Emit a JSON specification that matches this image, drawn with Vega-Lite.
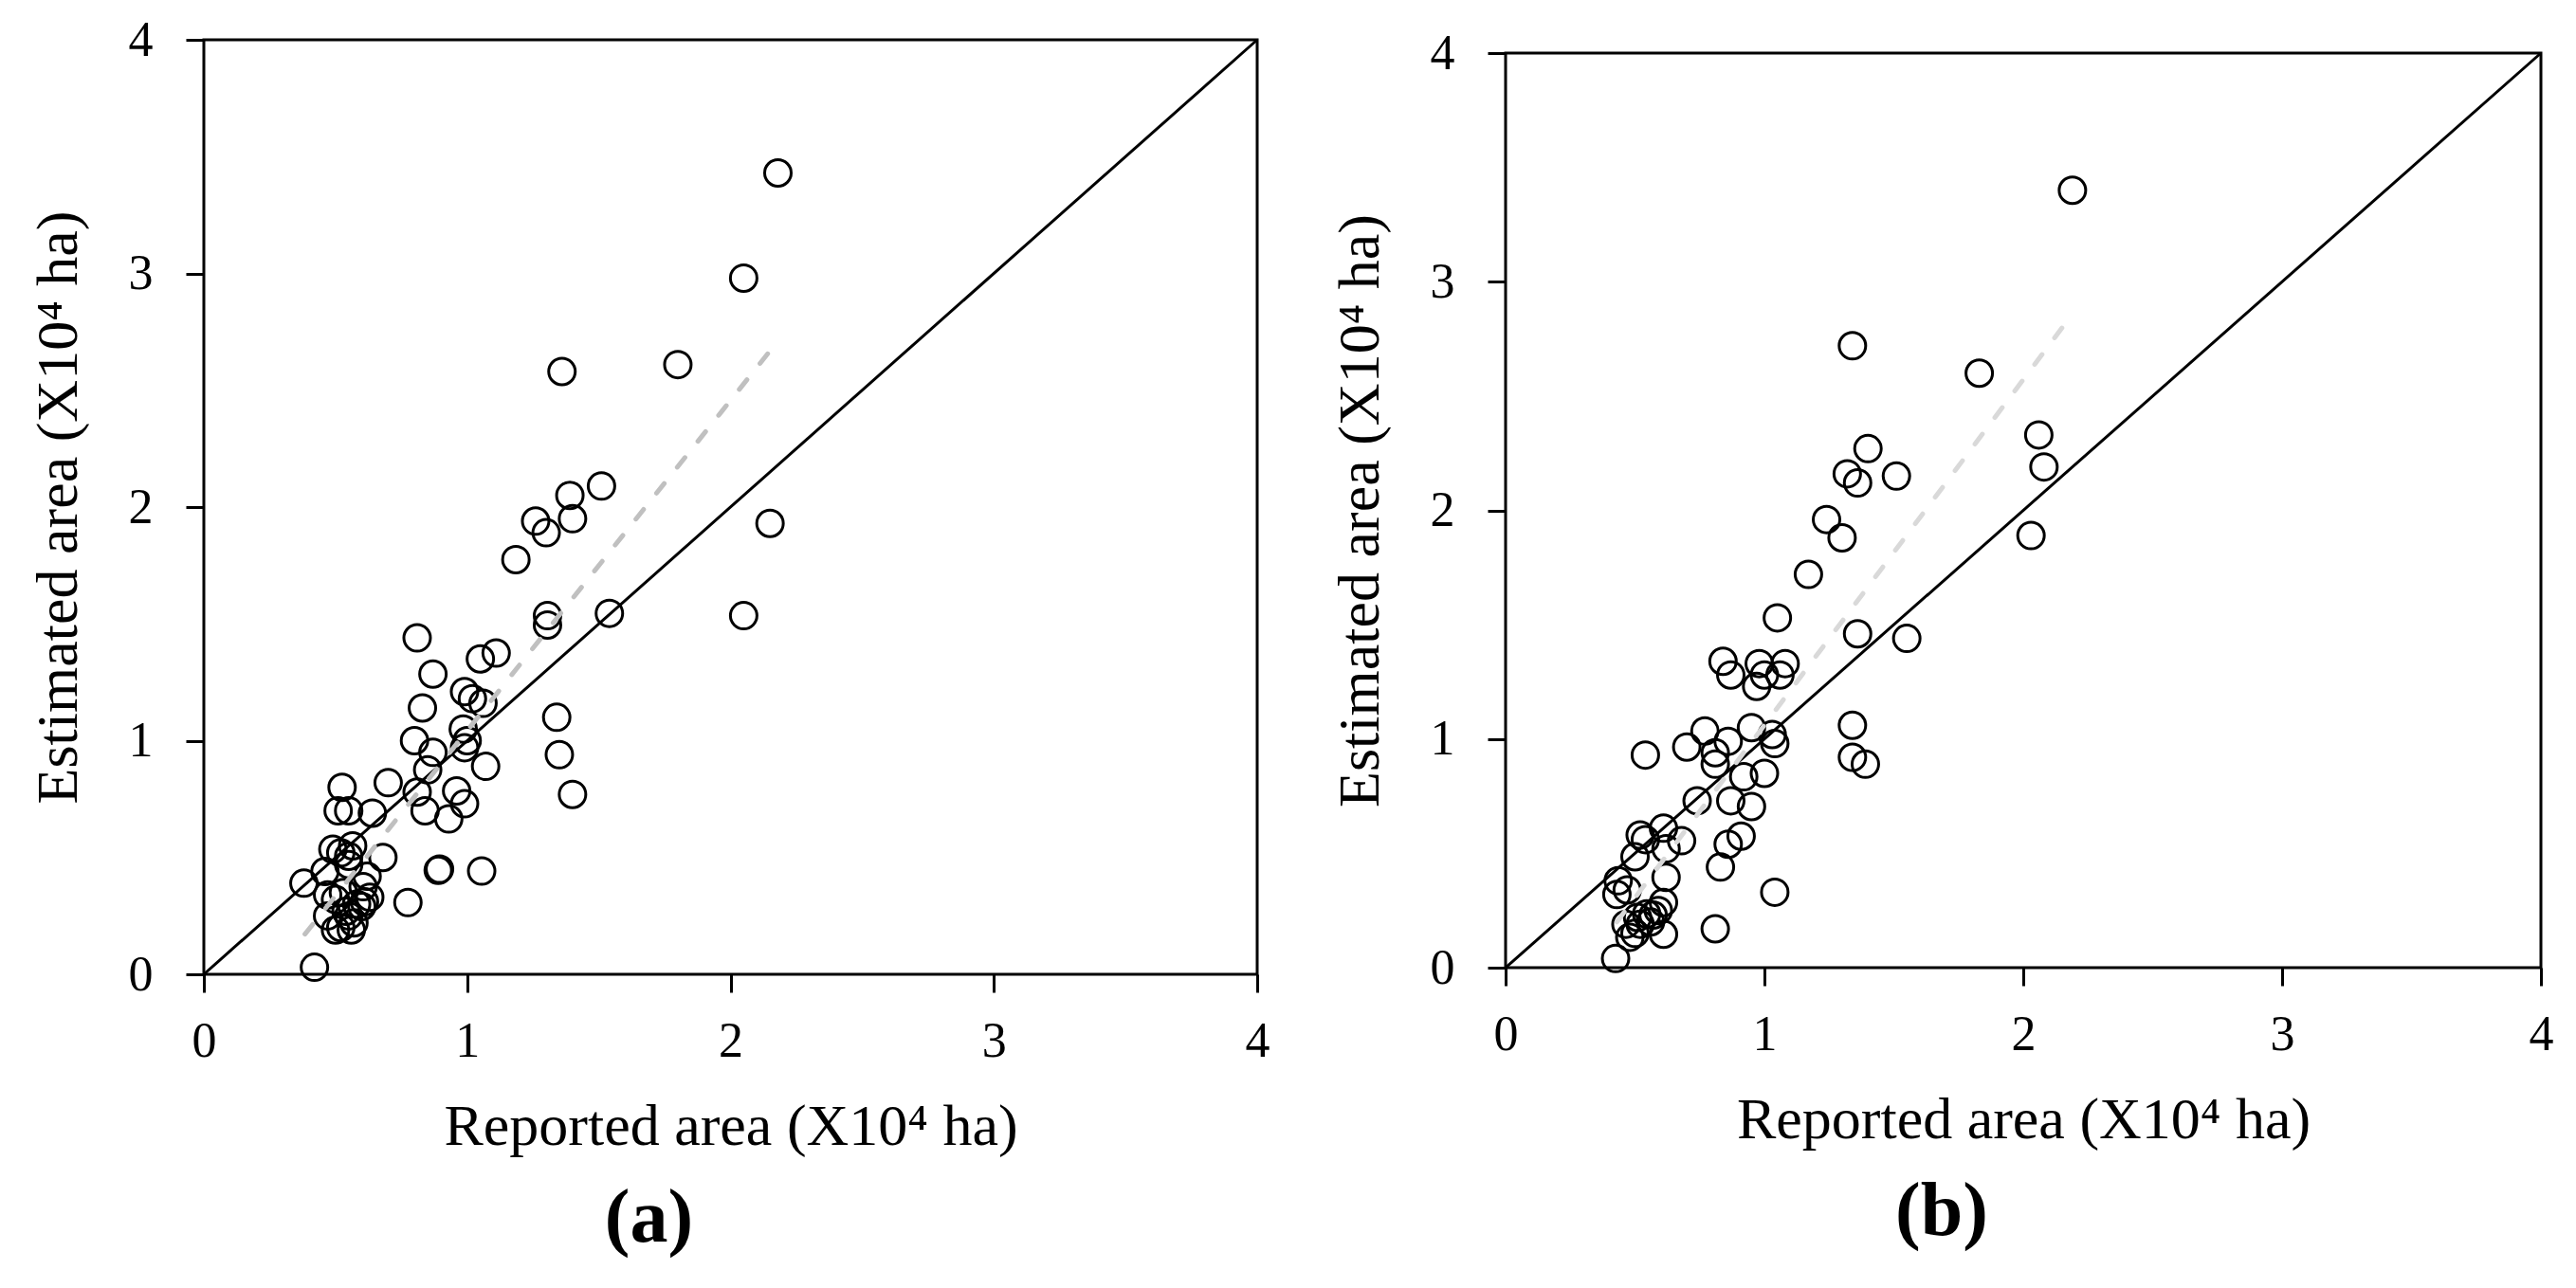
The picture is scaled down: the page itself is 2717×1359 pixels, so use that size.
{
  "$schema": "https://vega.github.io/schema/vega-lite/v6.json",
  "background": "white",
  "padding": {"left": 28, "top": 14, "right": 5, "bottom": 5},
  "config": {
    "font": "Liberation Serif",
    "view": {"stroke": "black", "strokeWidth": 3},
    "axis": {"grid": false, "domain": false, "ticks": true, "tickColor": "black", "tickWidth": 3, "tickSize": 19, "labelFlush": false, "labelOverlap": false, "labelFont": "Liberation Serif", "labelFontSize": 52, "labelColor": "black", "titleFont": "Liberation Serif", "titleFontSize": 62, "titleFontWeight": "normal", "titleColor": "black"},
    "axisX": {"labelPadding": 26, "titlePadding": 34},
    "axisY": {"labelPadding": 35, "titlePadding": 42},
    "title": {"font": "Liberation Serif", "fontSize": 80, "fontWeight": "bold", "color": "black", "orient": "bottom", "frame": "bounds", "anchor": "middle", "offset": 28}
  },
  "datasets": {
    "diag": [{"reported": 0, "estimated": 0}, {"reported": 4, "estimated": 4}],
    "rega": [{"reported": 0.384, "estimated": 0.172}, {"reported": 2.151, "estimated": 2.67}],
    "regb": [{"reported": 0.43, "estimated": 0.2}, {"reported": 2.196, "estimated": 2.868}],
    "pa": [
      {"reported": 2.18, "estimated": 3.43}, {"reported": 2.05, "estimated": 2.98}, {"reported": 1.36, "estimated": 2.58}, {"reported": 1.8, "estimated": 2.61},
      {"reported": 1.51, "estimated": 2.09}, {"reported": 1.39, "estimated": 2.05}, {"reported": 1.26, "estimated": 1.94}, {"reported": 1.3, "estimated": 1.89},
      {"reported": 1.4, "estimated": 1.95}, {"reported": 2.15, "estimated": 1.93}, {"reported": 1.185, "estimated": 1.775}, {"reported": 1.305, "estimated": 1.535},
      {"reported": 1.305, "estimated": 1.495}, {"reported": 1.54, "estimated": 1.545}, {"reported": 2.05, "estimated": 1.535}, {"reported": 0.81, "estimated": 1.44},
      {"reported": 1.11, "estimated": 1.375}, {"reported": 1.05, "estimated": 1.35}, {"reported": 0.87, "estimated": 1.285}, {"reported": 0.99, "estimated": 1.21},
      {"reported": 1.02, "estimated": 1.18}, {"reported": 1.06, "estimated": 1.16}, {"reported": 0.83, "estimated": 1.14}, {"reported": 1.34, "estimated": 1.1},
      {"reported": 0.985, "estimated": 1.05}, {"reported": 0.8, "estimated": 1.0}, {"reported": 1.0, "estimated": 1.0}, {"reported": 0.99, "estimated": 0.97},
      {"reported": 1.35, "estimated": 0.94}, {"reported": 0.87, "estimated": 0.95}, {"reported": 1.07, "estimated": 0.89}, {"reported": 0.85, "estimated": 0.875},
      {"reported": 0.7, "estimated": 0.82}, {"reported": 0.525, "estimated": 0.8}, {"reported": 0.81, "estimated": 0.78}, {"reported": 0.96, "estimated": 0.785},
      {"reported": 1.4, "estimated": 0.77}, {"reported": 0.99, "estimated": 0.73}, {"reported": 0.84, "estimated": 0.7}, {"reported": 0.93, "estimated": 0.665},
      {"reported": 0.51, "estimated": 0.7}, {"reported": 0.55, "estimated": 0.7}, {"reported": 0.64, "estimated": 0.69}, {"reported": 0.565, "estimated": 0.55},
      {"reported": 0.49, "estimated": 0.535}, {"reported": 0.55, "estimated": 0.505}, {"reported": 0.68, "estimated": 0.5}, {"reported": 0.62, "estimated": 0.42},
      {"reported": 0.46, "estimated": 0.44}, {"reported": 0.38, "estimated": 0.39}, {"reported": 0.895, "estimated": 0.45}, {"reported": 0.89, "estimated": 0.445},
      {"reported": 1.055, "estimated": 0.442}, {"reported": 0.775, "estimated": 0.307}, {"reported": 0.42, "estimated": 0.03},
      {"reported": 0.47, "estimated": 0.34}, {"reported": 0.5, "estimated": 0.32}, {"reported": 0.54, "estimated": 0.27}, {"reported": 0.55, "estimated": 0.25},
      {"reported": 0.58, "estimated": 0.3}, {"reported": 0.605, "estimated": 0.375}, {"reported": 0.61, "estimated": 0.31}, {"reported": 0.63, "estimated": 0.33},
      {"reported": 0.47, "estimated": 0.25}, {"reported": 0.5, "estimated": 0.19}, {"reported": 0.52, "estimated": 0.2}, {"reported": 0.56, "estimated": 0.19},
      {"reported": 0.57, "estimated": 0.22}, {"reported": 0.6, "estimated": 0.29}, {"reported": 0.53, "estimated": 0.35}, {"reported": 0.52, "estimated": 0.52},
      {"reported": 0.55, "estimated": 0.47}
    ],
    "pb": [
      {"reported": 2.19, "estimated": 3.4}, {"reported": 1.34, "estimated": 2.72}, {"reported": 1.83, "estimated": 2.6}, {"reported": 2.06, "estimated": 2.33},
      {"reported": 2.08, "estimated": 2.19}, {"reported": 1.4, "estimated": 2.27}, {"reported": 1.51, "estimated": 2.15}, {"reported": 1.32, "estimated": 2.16},
      {"reported": 1.36, "estimated": 2.12}, {"reported": 2.03, "estimated": 1.89}, {"reported": 1.24, "estimated": 1.96}, {"reported": 1.3, "estimated": 1.88},
      {"reported": 1.17, "estimated": 1.72}, {"reported": 1.05, "estimated": 1.53}, {"reported": 1.36, "estimated": 1.46}, {"reported": 1.55, "estimated": 1.44},
      {"reported": 0.84, "estimated": 1.34}, {"reported": 0.87, "estimated": 1.28}, {"reported": 0.98, "estimated": 1.33}, {"reported": 1.08, "estimated": 1.33},
      {"reported": 0.97, "estimated": 1.23}, {"reported": 1.0, "estimated": 1.28}, {"reported": 1.06, "estimated": 1.28}, {"reported": 1.34, "estimated": 1.06},
      {"reported": 1.34, "estimated": 0.92}, {"reported": 1.39, "estimated": 0.89},
      {"reported": 0.54, "estimated": 0.93}, {"reported": 0.7, "estimated": 0.965}, {"reported": 0.77, "estimated": 1.035}, {"reported": 0.81, "estimated": 0.94},
      {"reported": 0.81, "estimated": 0.89}, {"reported": 0.86, "estimated": 0.99}, {"reported": 0.95, "estimated": 1.05}, {"reported": 1.03, "estimated": 1.02},
      {"reported": 1.04, "estimated": 0.98}, {"reported": 1.0, "estimated": 0.85}, {"reported": 0.92, "estimated": 0.835}, {"reported": 0.74, "estimated": 0.73},
      {"reported": 0.87, "estimated": 0.73}, {"reported": 0.95, "estimated": 0.705}, {"reported": 0.91, "estimated": 0.575}, {"reported": 0.86, "estimated": 0.54},
      {"reported": 0.83, "estimated": 0.44}, {"reported": 1.04, "estimated": 0.33}, {"reported": 0.81, "estimated": 0.17}, {"reported": 0.425, "estimated": 0.04},
      {"reported": 0.52, "estimated": 0.58}, {"reported": 0.61, "estimated": 0.61}, {"reported": 0.68, "estimated": 0.555}, {"reported": 0.62, "estimated": 0.52},
      {"reported": 0.5, "estimated": 0.485}, {"reported": 0.54, "estimated": 0.56}, {"reported": 0.435, "estimated": 0.38}, {"reported": 0.43, "estimated": 0.32},
      {"reported": 0.47, "estimated": 0.34}, {"reported": 0.62, "estimated": 0.395}, {"reported": 0.61, "estimated": 0.285}, {"reported": 0.61, "estimated": 0.146},
      {"reported": 0.48, "estimated": 0.133}, {"reported": 0.465, "estimated": 0.19}, {"reported": 0.51, "estimated": 0.22}, {"reported": 0.545, "estimated": 0.235},
      {"reported": 0.57, "estimated": 0.23}, {"reported": 0.59, "estimated": 0.25}, {"reported": 0.52, "estimated": 0.19}, {"reported": 0.56, "estimated": 0.2},
      {"reported": 0.5, "estimated": 0.15}
    ]
  },
  "hconcat": [
    {
      "width": 1111, "height": 986,
      "title": {"text": "(a)"},
      "encoding": {
        "x": {"field": "reported", "type": "quantitative", "scale": {"domain": [0, 4], "nice": false}, "axis": {"values": [0, 1, 2, 3, 4], "title": "Reported area (X10⁴ ha)"}},
        "y": {"field": "estimated", "type": "quantitative", "scale": {"domain": [0, 4], "nice": false}, "axis": {"values": [0, 1, 2, 3, 4], "title": "Estimated area (X10⁴ ha)"}}
      },
      "layer": [
        {"data": {"name": "diag"}, "mark": {"type": "line", "color": "black", "strokeWidth": 3}},
        {"data": {"name": "pa"}, "mark": {"type": "point", "shape": "circle", "filled": false, "stroke": "black", "strokeWidth": 3, "size": 784, "opacity": 1}},
        {"data": {"name": "rega"}, "mark": {"type": "line", "color": "#c0c0c0", "strokeWidth": 5, "strokeDash": [13, 22], "strokeCap": "round"}}
      ]
    },
    {
      "spacing": 0,
      "bounds": "flush",
      "vconcat": [
        {"width": 1092, "height": 14, "data": {"values": [{}]}, "mark": {"type": "rect", "fill": "white", "opacity": 0, "strokeWidth": 0}, "view": {"stroke": null}},
        {
          "width": 1092, "height": 965,
          "title": {"text": "(b)"},
          "encoding": {
            "x": {"field": "reported", "type": "quantitative", "scale": {"domain": [0, 4], "nice": false}, "axis": {"values": [0, 1, 2, 3, 4], "title": "Reported area (X10⁴ ha)"}},
            "y": {"field": "estimated", "type": "quantitative", "scale": {"domain": [0, 4], "nice": false}, "axis": {"values": [0, 1, 2, 3, 4], "title": "Estimated area (X10⁴ ha)"}}
          },
          "layer": [
            {"data": {"name": "diag"}, "mark": {"type": "line", "color": "black", "strokeWidth": 3}},
            {"data": {"name": "pb"}, "mark": {"type": "point", "shape": "circle", "filled": false, "stroke": "black", "strokeWidth": 3, "size": 784, "opacity": 1}},
            {"data": {"name": "regb"}, "mark": {"type": "line", "color": "#d9d9d9", "strokeWidth": 5, "strokeDash": [13, 22], "strokeCap": "round"}}
          ]
        }
      ]
    }
  ],
  "spacing": 60
}
